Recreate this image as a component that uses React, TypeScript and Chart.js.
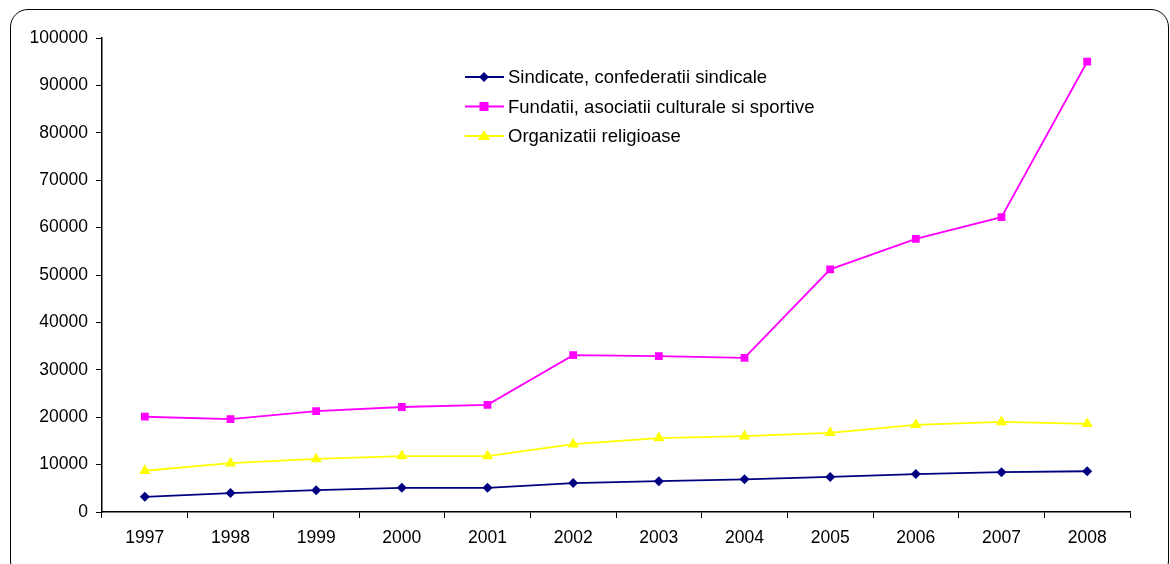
import React, { useEffect, useRef } from "react";
import { Chart, registerables } from "chart.js";

Chart.register(...registerables);

const years = ["1997", "1998", "1999", "2000", "2001", "2002", "2003", "2004", "2005", "2006", "2007", "2008"];
const sindicate = [3200, 4000, 4600, 5100, 5100, 6100, 6500, 6900, 7400, 8000, 8400, 8600];
const fundatii = [20100, 19600, 21300, 22150, 22600, 33100, 32900, 32500, 51200, 57600, 62200, 95000];
const religioase = [8700, 10300, 11200, 11800, 11800, 14300, 15600, 16000, 16700, 18400, 19000, 18600];
const seriesNames = [
  "Sindicate, confederatii sindicale",
  "Fundatii, asociatii culturale si sportive",
  "Organizatii religioase",
];

const FONT = "'Liberation Sans', Arial, sans-serif";

// Legend drawn inside the plot area, left-aligned in a small block
const insideLegend = {
  id: "insideLegend",
  afterDraw(chart: any) {
    const { ctx } = chart;
    const x0 = 465;
    const y0 = 77;
    const gap = 29.5;
    chart.data.datasets.forEach((ds: any, i: number) => {
      const y = y0 + i * gap;
      ctx.save();
      ctx.strokeStyle = ds.borderColor;
      ctx.lineWidth = 1.8;
      ctx.beginPath();
      ctx.moveTo(x0, y);
      ctx.lineTo(x0 + 39, y);
      ctx.stroke();
      ctx.fillStyle = ds.backgroundColor;
      const cx = x0 + 19;
      ctx.beginPath();
      if (ds.pointStyle === "rectRot") {
        const r = 5;
        ctx.moveTo(cx, y - r);
        ctx.lineTo(cx + r, y);
        ctx.lineTo(cx, y + r);
        ctx.lineTo(cx - r, y);
      } else if (ds.pointStyle === "rect") {
        ctx.rect(cx - 4.5, y - 4.5, 9, 9);
      } else {
        ctx.moveTo(cx, y - 6);
        ctx.lineTo(cx + 6, y + 4);
        ctx.lineTo(cx - 6, y + 4);
      }
      ctx.closePath();
      ctx.fill();
      ctx.fillStyle = "#000";
      ctx.font = `18.5px ${FONT}`;
      ctx.textBaseline = "middle";
      ctx.fillText(ds.label, x0 + 43, y + 1);
      ctx.restore();
    });
  },
};

export default function App() {
  const canvasRef = useRef<HTMLCanvasElement>(null);

  useEffect(() => {
    if (!canvasRef.current) return;
    const chart = new Chart(canvasRef.current, {
      type: "line",
      data: {
        labels: years,
        datasets: [
          {
            label: seriesNames[0],
            data: sindicate,
            borderColor: "#000080",
            backgroundColor: "#000080",
            borderWidth: 1.8,
            pointStyle: "rectRot",
            pointRadius: 5,
            pointBorderWidth: 0,
            tension: 0,
          },
          {
            label: seriesNames[1],
            data: fundatii,
            borderColor: "#FF00FF",
            backgroundColor: "#FF00FF",
            borderWidth: 1.8,
            pointStyle: "rect",
            pointRadius: 5.5,
            pointBorderWidth: 0,
            tension: 0,
          },
          {
            label: seriesNames[2],
            data: religioase,
            borderColor: "#FFFF00",
            backgroundColor: "#FFFF00",
            borderWidth: 1.8,
            pointStyle: "triangle",
            pointRadius: 6.5,
            pointBorderWidth: 0,
            tension: 0,
          },
        ],
      },
      options: {
        animation: false,
        responsive: false,
        maintainAspectRatio: false,
        layout: { padding: { top: 38, right: 40, left: 0, bottom: 0 } },
        plugins: {
          legend: { display: false },
          tooltip: { enabled: false },
        },
        scales: {
          x: {
            offset: true,
            grid: {
              offset: true,
              drawOnChartArea: false,
              drawTicks: true,
              tickLength: 6,
              color: "#000",
            },
            border: { color: "#000", width: 1.5 },
            ticks: { color: "#000", font: { family: FONT, size: 17.5 }, padding: 10, maxRotation: 0 },
            afterFit(scale: any) {
              scale.height = 52;
            },
          },
          y: {
            min: 0,
            max: 100000,
            grid: {
              drawOnChartArea: false,
              drawTicks: true,
              tickLength: 6,
              color: "#000",
            },
            border: { color: "#000", width: 1.5 },
            ticks: {
              stepSize: 10000,
              color: "#000",
              font: { family: FONT, size: 17.5 },
              padding: 8,
              callback: (v: any) => String(v),
            },
            afterFit(scale: any) {
              scale.width = 102;
            },
          },
        },
      },
      plugins: [insideLegend],
    });
    return () => chart.destroy();
  }, []);

  return (
    <div style={{ position: "absolute", left: 0, top: 0, width: 1170, height: 564, overflow: "hidden", background: "#fff" }}>
      <div
        style={{
          position: "absolute",
          left: 10,
          top: 9,
          width: 1159,
          height: 570,
          border: "1.5px solid #000",
          borderRadius: 18,
          boxSizing: "border-box",
        }}
      />
      <canvas ref={canvasRef} width={1170} height={564} style={{ position: "absolute", left: 0, top: 0 }} />
    </div>
  );
}
